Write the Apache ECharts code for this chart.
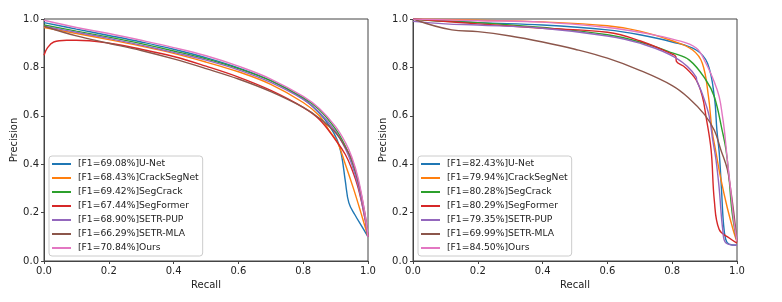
<!DOCTYPE html>
<html>
<head>
<meta charset="utf-8">
<script src="https://cdn.jsdelivr.net/npm/echarts@6/dist/echarts.min.js"></script>
<style>
html,body{margin:0;padding:0;background:#fff;}
#c{width:782px;height:302px;}
</style>
</head>
<body>
<div id="c"></div>
<script>
// ---------- Tick labels ----------
const xTicks = [0.0, 0.2, 0.4, 0.6, 0.8, 1.0];
const yTicks = [0.0, 0.2, 0.4, 0.6, 0.8, 1.0];

// ---------- Series names ----------
const leftNames = ['[F1=69.08%]U-Net', '[F1=68.43%]CrackSegNet', '[F1=69.42%]SegCrack', '[F1=67.44%]SegFormer', '[F1=68.90%]SETR-PUP', '[F1=66.29%]SETR-MLA', '[F1=70.84%]Ours'];
const rightNames = ['[F1=82.43%]U-Net', '[F1=79.94%]CrackSegNet', '[F1=80.28%]SegCrack', '[F1=80.29%]SegFormer', '[F1=79.35%]SETR-PUP', '[F1=69.99%]SETR-MLA', '[F1=84.50%]Ours'];
const colors = ['#1f77b4', '#ff7f0e', '#2ca02c', '#d62728', '#9467bd', '#8c564b', '#e377c2'];

// ---------- Left panel (recall / precision) ----------
const leftUNetR = [0, 0.1, 0.2, 0.3, 0.4, 0.5, 0.6, 0.7, 0.8, 0.85, 0.88, 0.905, 0.918, 0.93, 0.941, 0.96, 0.98, 1.0];
const leftUNetP = [0.985, 0.958, 0.932, 0.905, 0.875, 0.84, 0.798, 0.745, 0.67, 0.61, 0.56, 0.5, 0.44, 0.33, 0.24, 0.19, 0.145, 0.1];
const leftCrackSegNetR = [0, 0.1, 0.2, 0.3, 0.4, 0.5, 0.6, 0.7, 0.8, 0.85, 0.88, 0.906, 0.93, 0.955, 0.978, 1.0];
const leftCrackSegNetP = [0.965, 0.94, 0.915, 0.888, 0.858, 0.822, 0.782, 0.73, 0.655, 0.6, 0.54, 0.49, 0.4, 0.3, 0.2, 0.1];
const leftSegCrackR = [0, 0.1, 0.2, 0.3, 0.4, 0.5, 0.6, 0.7, 0.8, 0.85, 0.9, 0.93, 0.95, 0.97, 0.99, 1.0];
const leftSegCrackP = [0.975, 0.95, 0.925, 0.898, 0.868, 0.835, 0.795, 0.745, 0.675, 0.625, 0.545, 0.475, 0.41, 0.32, 0.19, 0.1];
const leftSegFormerR = [0, 0.01, 0.03, 0.07, 0.1, 0.2, 0.3, 0.4, 0.5, 0.6, 0.7, 0.8, 0.85, 0.9, 0.93, 0.95, 0.97, 0.99, 1.0];
const leftSegFormerP = [0.85, 0.88, 0.905, 0.912, 0.912, 0.9, 0.875, 0.845, 0.805, 0.76, 0.705, 0.635, 0.585, 0.5, 0.44, 0.38, 0.3, 0.18, 0.1];
const leftSETRPUPR = [0, 0.1, 0.2, 0.3, 0.4, 0.5, 0.6, 0.7, 0.8, 0.85, 0.9, 0.93, 0.95, 0.97, 0.99, 1.0];
const leftSETRPUPP = [0.97, 0.945, 0.92, 0.892, 0.862, 0.83, 0.79, 0.738, 0.668, 0.615, 0.535, 0.465, 0.4, 0.31, 0.18, 0.1];
const leftSETRMLAR = [0, 0.1, 0.2, 0.3, 0.4, 0.5, 0.6, 0.7, 0.8, 0.85, 0.9, 0.93, 0.95, 0.97, 0.99, 1.0];
const leftSETRMLAP = [0.97, 0.93, 0.9, 0.87, 0.835, 0.795, 0.752, 0.7, 0.635, 0.59, 0.53, 0.47, 0.42, 0.33, 0.2, 0.1];
const leftOursR = [0, 0.1, 0.2, 0.3, 0.4, 0.5, 0.6, 0.7, 0.8, 0.85, 0.9, 0.93, 0.95, 0.97, 0.99, 1.0];
const leftOursP = [0.995, 0.965, 0.94, 0.912, 0.882, 0.848, 0.805, 0.752, 0.68, 0.63, 0.555, 0.49, 0.43, 0.34, 0.2, 0.1];

// ---------- Right panel (recall / precision) ----------
const rightUNetR = [0, 0.2, 0.4, 0.6, 0.7, 0.8, 0.874, 0.909, 0.93, 0.938, 0.945, 0.952, 0.958, 0.965, 0.975, 1.0];
const rightUNetP = [1.0, 0.985, 0.975, 0.955, 0.935, 0.905, 0.872, 0.817, 0.679, 0.54, 0.45, 0.3, 0.16, 0.09, 0.07, 0.065];
const rightCrackSegNetR = [0, 0.2, 0.4, 0.6, 0.7, 0.8, 0.863, 0.893, 0.912, 0.923, 0.935, 0.95, 0.97, 0.99, 1.0];
const rightCrackSegNetP = [1.0, 0.995, 0.988, 0.972, 0.95, 0.91, 0.872, 0.817, 0.679, 0.54, 0.45, 0.34, 0.22, 0.12, 0.08];
const rightSegCrackR = [0, 0.1, 0.2, 0.4, 0.6, 0.7, 0.8, 0.853, 0.904, 0.93, 0.954, 0.966, 0.975, 0.985, 1.0];
const rightSegCrackP = [1.0, 0.99, 0.985, 0.965, 0.935, 0.905, 0.86, 0.83, 0.748, 0.679, 0.541, 0.46, 0.35, 0.2, 0.08];
const rightSegFormerR = [0, 0.2, 0.4, 0.6, 0.7, 0.8, 0.811, 0.813, 0.84, 0.874, 0.893, 0.904, 0.92, 0.93, 0.945, 0.976, 1.0];
const rightSegFormerP = [1.0, 0.98, 0.962, 0.945, 0.91, 0.855, 0.845, 0.825, 0.8, 0.748, 0.68, 0.6, 0.46, 0.25, 0.13, 0.095, 0.074];
const rightSETRPUPR = [0, 0.1, 0.2, 0.4, 0.6, 0.7, 0.81, 0.874, 0.876, 0.893, 0.914, 0.925, 0.935, 0.945, 0.956, 0.966, 1.0];
const rightSETRPUPP = [0.99, 0.98, 0.975, 0.962, 0.93, 0.9, 0.84, 0.76, 0.745, 0.69, 0.6, 0.5, 0.42, 0.3, 0.13, 0.074, 0.065];
const rightSETRMLAR = [0, 0.12, 0.2, 0.3, 0.4, 0.5, 0.6, 0.7, 0.8, 0.85, 0.9, 0.93, 0.95, 0.97, 0.98, 0.99, 1.0];
const rightSETRMLAP = [1.0, 0.955, 0.948, 0.93, 0.905, 0.875, 0.838, 0.788, 0.725, 0.675, 0.605, 0.54, 0.46, 0.38, 0.3, 0.2, 0.08];
const rightOursR = [0, 0.2, 0.4, 0.6, 0.7, 0.812, 0.874, 0.904, 0.93, 0.945, 0.955, 0.961, 0.97, 0.98, 0.99, 1.0];
const rightOursP = [1.0, 0.993, 0.987, 0.965, 0.945, 0.913, 0.88, 0.817, 0.74, 0.679, 0.6, 0.541, 0.42, 0.3, 0.17, 0.08];

const leftSets = [[leftUNetR, leftUNetP], [leftCrackSegNetR, leftCrackSegNetP], [leftSegCrackR, leftSegCrackP], [leftSegFormerR, leftSegFormerP], [leftSETRPUPR, leftSETRPUPP], [leftSETRMLAR, leftSETRMLAP], [leftOursR, leftOursP]];
const rightSets = [[rightUNetR, rightUNetP], [rightCrackSegNetR, rightCrackSegNetP], [rightSegCrackR, rightSegCrackP], [rightSegFormerR, rightSegFormerP], [rightSETRPUPR, rightSETRPUPP], [rightSETRMLAR, rightSETRMLAP], [rightOursR, rightOursP]];

const FONT = 'DejaVu Sans';
function zip(r, p) { return r.map((v, i) => [v, p[i]]); }

function xAxisCfg(gi) {
  return {
    type: 'value', gridIndex: gi, min: 0, max: 1, interval: 0.2,
    name: 'Recall', nameLocation: 'middle', nameGap: 17,
    nameTextStyle: { fontFamily: FONT, fontSize: 10, color: '#222' },
    axisLine: { show: true, lineStyle: { color: '#444', width: 1 } },
    axisTick: { show: true, inside: false, length: 3, lineStyle: { color: '#444' } },
    axisLabel: { fontFamily: FONT, fontSize: 10, color: '#222', margin: 5, formatter: v => v.toFixed(1) },
    splitLine: { show: false }
  };
}
function yAxisCfg(gi) {
  return {
    type: 'value', gridIndex: gi, min: 0, max: 1, interval: 0.2,
    name: 'Precision', nameLocation: 'middle', nameGap: 25,
    nameTextStyle: { fontFamily: FONT, fontSize: 10, color: '#222' },
    axisLine: { show: true, lineStyle: { color: '#444', width: 1 } },
    axisTick: { show: true, inside: false, length: 3, lineStyle: { color: '#444' } },
    axisLabel: { fontFamily: FONT, fontSize: 10, color: '#222', margin: 5, formatter: v => v.toFixed(1) },
    splitLine: { show: false }
  };
}
function legendCfg(names, left) {
  return {
    data: names, orient: 'vertical', left: left, top: 156,
    itemWidth: 19, itemHeight: 2, itemGap: 0, icon: 'rect',
    padding: [1, 4, 1, 3],
    borderColor: '#ccc', borderWidth: 1, borderRadius: 3,
    backgroundColor: 'rgba(255,255,255,0.8)',
    textStyle: { fontFamily: FONT, fontSize: 9.2, color: '#222', lineHeight: 14, padding: [0, 0, 0, 2] },
    selectedMode: false
  };
}

const series = [];
leftSets.forEach((s, i) => series.push({
  name: leftNames[i], type: 'line', xAxisIndex: 0, yAxisIndex: 0,
  data: zip(s[0], s[1]), showSymbol: false, smooth: 0.4,
  lineStyle: { width: 1.4, color: colors[i] }, itemStyle: { color: colors[i] }
}));
rightSets.forEach((s, i) => series.push({
  name: rightNames[i], type: 'line', xAxisIndex: 1, yAxisIndex: 1,
  data: zip(s[0], s[1]), showSymbol: false, smooth: 0.4,
  lineStyle: { width: 1.4, color: colors[i] }, itemStyle: { color: colors[i] }
}));

const chart = echarts.init(document.getElementById('c'), null, { renderer: 'canvas' });
chart.setOption({
  animation: false,
  backgroundColor: '#fff',
  grid: [
    { left: 44, top: 19, width: 324, height: 242, show: true, borderColor: '#444', borderWidth: 1, backgroundColor: 'transparent' },
    { left: 413, top: 19, width: 324, height: 242, show: true, borderColor: '#444', borderWidth: 1, backgroundColor: 'transparent' }
  ],
  xAxis: [xAxisCfg(0), xAxisCfg(1)],
  yAxis: [yAxisCfg(0), yAxisCfg(1)],
  legend: [legendCfg(leftNames, 49), legendCfg(rightNames, 418)],
  series: series
});
</script>
</body>
</html>
